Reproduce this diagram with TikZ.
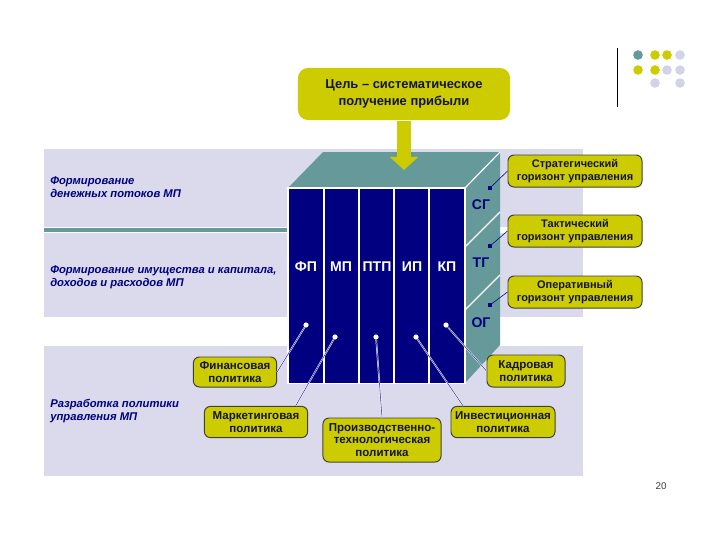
\documentclass[tikz,border=0pt]{standalone}
\usepackage{fontspec}
\setmainfont{Liberation Sans}
\usetikzlibrary{arrows.meta,calc}
\definecolor{lav}{RGB}{218,218,236}
\definecolor{teal1}{RGB}{102,153,153}
\definecolor{navy1}{RGB}{0,0,128}
\definecolor{olive1}{RGB}{204,204,0}
\definecolor{dotlav}{RGB}{210,210,232}
\definecolor{ink}{RGB}{20,20,50}

\begin{document}
\begin{tikzpicture}[x=0.025cm,y=-0.025cm]

    \tikzset{ybox/.style = {shape=rectangle,rounded corners=0.15cm,fill=olive1,draw=black!75,line width=0.7pt,align=center,inner sep=1pt,text=ink,font=\fontsize{8.2}{9}\selectfont\bfseries}}
    \tikzset{hbox/.style = {ybox,minimum width=3.35cm,minimum height=0.8cm,font=\fontsize{7.8}{9}\selectfont\bfseries}}
    \tikzset{lab/.style = {text=white,font=\fontsize{10}{12}\selectfont\bfseries}}
    \tikzset{side/.style = {text=navy1,font=\fontsize{10}{12}\selectfont\bfseries}}
    \tikzset{note/.style = {anchor=west,align=left,inner sep=0pt,text=navy1,font=\fontsize{8}{9}\selectfont\bfseries\itshape}}
    \tikzset{link/.style = {draw=navy1!80,line width=0.4pt,preaction={draw=white,line width=1.1pt}}}
    \tikzset{hlink/.style = {draw=navy1,line width=0.4pt}}
    \tikzset{wdot/.style = {shape=circle,fill=white,inner sep=0pt,minimum size=0.13cm}}
    \tikzset{sq/.style = {shape=rectangle,fill=navy1,inner sep=0pt,minimum size=0.08cm}}

    \useasboundingbox[fill=white] (0,0) rectangle (720,540);
    %bands
    \fill[lav] (44,149) rectangle (583,227);
    \fill[teal1] (44,228) rectangle (288,232);
    \fill[lav] (44,233) rectangle (583,317);
    \fill[lav] (44,346) rectangle (583,476);
    \node[note] (n1) at (50,187) {Формирование\\денежных потоков МП};
    \node[note] (n2) at (50,277) {Формирование имущества и капитала,\\доходов и расходов МП};
    \node[note] (n3) at (50,411) {Разработка политики\\управления МП};

    %cube
    \fill[teal1] (288,188) -- (323,152) -- (500,152) -- (465,188) -- cycle;
    \fill[teal1] (465,188) -- (500,152) -- (500,345) -- (465,383) -- cycle;
    \draw[white,line width=0.8pt] (465,188) -- (500,152) (465,247) -- (500,212) (465,310) -- (500,275);
    \fill[white] (287,187) rectangle (466,384);
    \foreach \a/\b in {289/323,325/358,360/393,395/428,430/464}
        \fill[navy1] (\a,189) rectangle (\b,383);

    \node[lab] (fp) at (306,267) {ФП};
    \node[lab] (mp) at (341,267) {МП};
    \node[lab] (ptp) at (377,267) {ПТП};
    \node[lab] (ip) at (412,267) {ИП};
    \node[lab] (kp) at (447,267) {КП};
    \node[side] (sg) at (481,205) {СГ};
    \node[side] (tg) at (481,263) {ТГ};
    \node[side] (og) at (481,323) {ОГ};

    \node[wdot] (dfp) at (306,325) {};
    \node[wdot] (dmp) at (335,337) {};
    \node[wdot] (dptp) at (376,337) {};
    \node[wdot] (dip) at (416,337) {};
    \node[wdot] (dkp) at (446,325) {};
    \node[sq] (dsg) at (490,188) {};
    \node[sq] (dtg) at (490,246) {};
    \node[sq] (dog) at (490,305) {};

    %goal
    \node[ybox,draw=none,rounded corners=0.25cm,minimum width=5.3cm,minimum height=1.3cm,font=\fontsize{9.2}{12}\selectfont\bfseries] (goal) at (404,94) {Цель – систематическое\\получение прибыли};
    \coordinate (tip) at (404,170);
    \draw[olive1,line width=0.33cm,-{Triangle[length=0.33cm,width=0.7cm]}] (goal.south) -- (tip);

    %boxes
    \node[hbox] (strat) at (575,171) {Стратегический\\горизонт управления};
    \node[hbox] (takt) at (575,231) {Тактический\\горизонт управления};
    \node[hbox] (oper) at (575,292) {Оперативный\\горизонт управления};
    \node[ybox,minimum width=1.95cm,minimum height=0.8cm] (kadr) at (526,371) {Кадровая\\политика};
    \node[ybox,minimum width=2.08cm,minimum height=0.75cm] (fin) at (235,372) {Финансовая\\политика};
    \node[ybox,minimum width=2.58cm,minimum height=0.78cm] (mark) at (256,422) {Маркетинговая\\политика};
    \node[ybox,minimum width=2.95cm,minimum height=1.1cm] (prod) at (382,440) {Производственно-\\технологическая\\политика};
    \node[ybox,minimum width=2.6cm,minimum height=0.78cm] (inv) at (503,422) {Инвестиционная\\политика};

    %edges
    \draw[link] (dfp) -- (fin.east);
    \draw[link] (dmp) -- ($(mark.north east)!0.12!(mark.north west)$);
    \draw[link] (dptp) -- (prod.north);
    \draw[link] (dip) -- ($(inv.north west)!0.12!(inv.north east)$);
    \draw[link] (dkp) -- (kadr.west);
    \draw[hlink] (dsg) -- (strat.west);
    \draw[hlink] (dtg) -- (takt.west);
    \draw[hlink] (dog) -- (oper.west);

    %corner
    \draw[black,line width=0.6pt] (617,48) -- (617,107);
    \foreach \x/\y/\c in {638/55/teal1,655/55/olive1,667/55/olive1,680/55/dotlav,638/70/olive1,655/70/olive1,667/70/dotlav,680/70/dotlav,655/83/dotlav,680/83/dotlav}
        \fill[\c] (\x,\y) circle[radius=0.12cm];
    \node[font=\fontsize{7}{8}\selectfont,text=black!75] (pg) at (661,486) {20};
\end{tikzpicture}
\end{document}
